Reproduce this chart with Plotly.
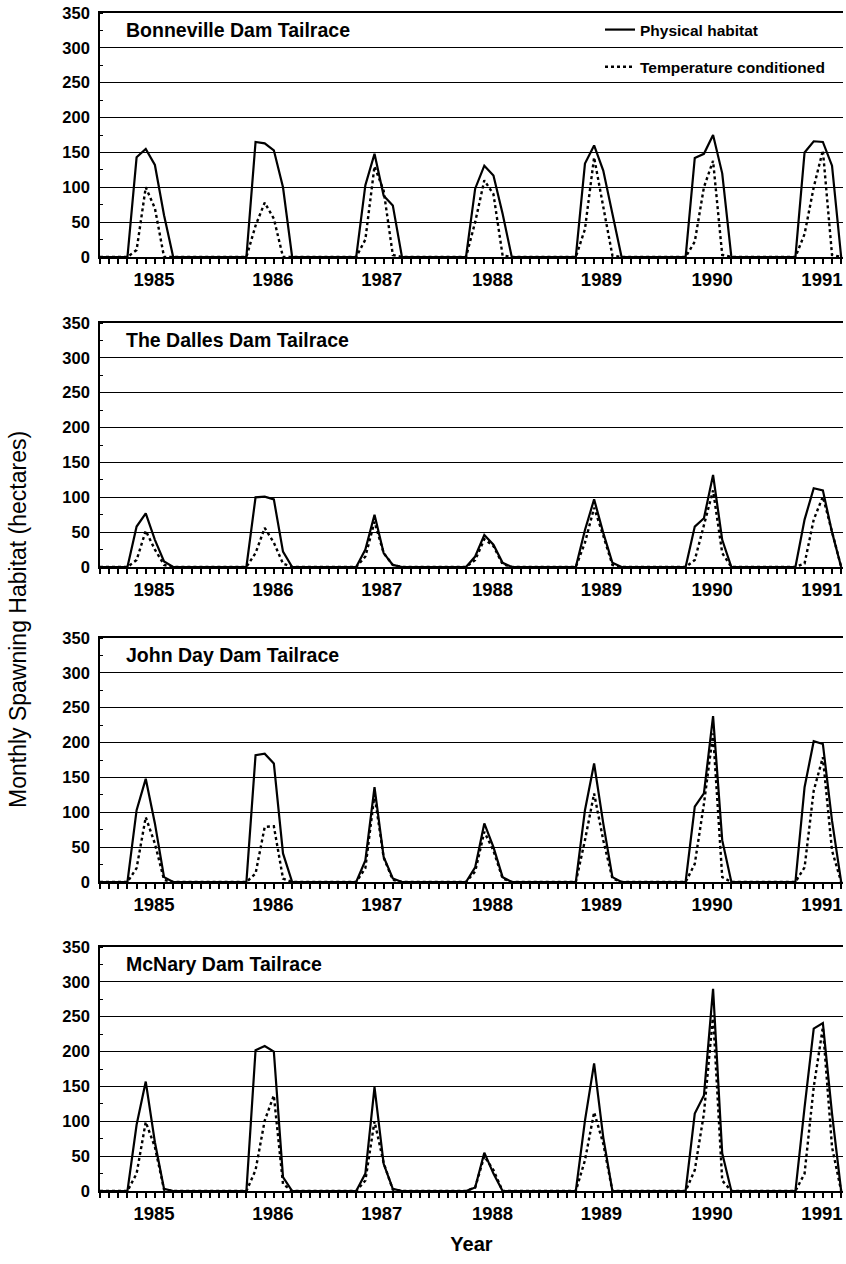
import plotly.graph_objects as go
from plotly.subplots import make_subplots

# ---- data: monthly values, month index 0..81 ----
months = list(range(82))
year_labels = ["1985", "1986", "1987", "1988", "1989", "1990", "1991"]
year_label_pos = [5.9, 18.9, 30.8, 42.9, 54.8, 66.9, 78.9]

panel_titles = ["Bonneville Dam Tailrace", "The Dalles Dam Tailrace",
                "John Day Dam Tailrace", "McNary Dam Tailrace"]

bonneville_physical = (
    [0, 0, 0, 0, 143, 155, 132, 60, 0, 0, 0, 0]
    + [0, 0, 0, 0, 0, 165, 163, 153, 100, 0, 0, 0]
    + [0, 0, 0, 0, 0, 103, 148, 88, 74, 0, 0, 0]
    + [0, 0, 0, 0, 0, 98, 131, 117, 62, 0, 0, 0]
    + [0, 0, 0, 0, 0, 134, 160, 124, 62, 0, 0, 0]
    + [0, 0, 0, 0, 0, 142, 148, 175, 120, 0, 0, 0]
    + [0, 0, 0, 0, 0, 150, 166, 165, 131, 0])
bonneville_temp = (
    [0, 0, 0, 0, 10, 100, 70, 0, 0, 0, 0, 0]
    + [0, 0, 0, 0, 0, 45, 78, 55, 0, 0, 0, 0]
    + [0, 0, 0, 0, 0, 25, 130, 95, 3, 0, 0, 0]
    + [0, 0, 0, 0, 0, 50, 110, 90, 2, 0, 0, 0]
    + [0, 0, 0, 0, 0, 40, 143, 72, 2, 0, 0, 0]
    + [0, 0, 0, 0, 0, 22, 100, 138, 3, 0, 0, 0]
    + [0, 0, 0, 0, 0, 33, 100, 153, 3, 0])

dalles_physical = (
    [0, 0, 0, 0, 58, 77, 39, 8, 0, 0, 0, 0]
    + [0, 0, 0, 0, 0, 100, 101, 97, 22, 0, 0, 0]
    + [0, 0, 0, 0, 0, 25, 75, 20, 3, 0, 0, 0]
    + [0, 0, 0, 0, 0, 15, 46, 32, 6, 0, 0, 0]
    + [0, 0, 0, 0, 0, 53, 97, 49, 6, 0, 0, 0]
    + [0, 0, 0, 0, 0, 58, 70, 132, 39, 0, 0, 0]
    + [0, 0, 0, 0, 0, 68, 113, 110, 50, 0])
dalles_temp = (
    [0, 0, 0, 0, 10, 52, 25, 3, 0, 0, 0, 0]
    + [0, 0, 0, 0, 0, 20, 56, 35, 5, 0, 0, 0]
    + [0, 0, 0, 0, 0, 15, 65, 20, 3, 0, 0, 0]
    + [0, 0, 0, 0, 0, 10, 40, 30, 4, 0, 0, 0]
    + [0, 0, 0, 0, 0, 35, 85, 45, 3, 0, 0, 0]
    + [0, 0, 0, 0, 0, 10, 58, 110, 20, 0, 0, 0]
    + [0, 0, 0, 0, 0, 5, 68, 101, 49, 0])

johnday_physical = (
    [0, 0, 0, 0, 103, 148, 84, 7, 0, 0, 0, 0]
    + [0, 0, 0, 0, 0, 182, 184, 170, 41, 0, 0, 0]
    + [0, 0, 0, 0, 0, 31, 136, 36, 5, 0, 0, 0]
    + [0, 0, 0, 0, 0, 21, 84, 50, 7, 0, 0, 0]
    + [0, 0, 0, 0, 0, 103, 170, 84, 7, 0, 0, 0]
    + [0, 0, 0, 0, 0, 108, 127, 238, 60, 0, 0, 0]
    + [0, 0, 0, 0, 0, 136, 202, 198, 88, 0])
johnday_temp = (
    [0, 0, 0, 0, 20, 93, 55, 3, 0, 0, 0, 0]
    + [0, 0, 0, 0, 0, 12, 79, 80, 5, 0, 0, 0]
    + [0, 0, 0, 0, 0, 20, 125, 35, 3, 0, 0, 0]
    + [0, 0, 0, 0, 0, 15, 72, 45, 5, 0, 0, 0]
    + [0, 0, 0, 0, 0, 60, 127, 60, 5, 0, 0, 0]
    + [0, 0, 0, 0, 0, 26, 112, 213, 7, 0, 0, 0]
    + [0, 0, 0, 0, 0, 21, 131, 179, 45, 0])

mcnary_physical = (
    [0, 0, 0, 0, 95, 157, 70, 3, 0, 0, 0, 0]
    + [0, 0, 0, 0, 0, 202, 208, 200, 20, 0, 0, 0]
    + [0, 0, 0, 0, 0, 25, 149, 39, 3, 0, 0, 0]
    + [0, 0, 0, 0, 0, 5, 55, 25, 0, 0, 0, 0]
    + [0, 0, 0, 0, 0, 101, 183, 77, 0, 0, 0, 0]
    + [0, 0, 0, 0, 0, 111, 137, 290, 54, 0, 0, 0]
    + [0, 0, 0, 0, 0, 120, 233, 241, 111, 0])
mcnary_temp = (
    [0, 0, 0, 0, 25, 99, 63, 2, 0, 0, 0, 0]
    + [0, 0, 0, 0, 0, 30, 101, 137, 10, 0, 0, 0]
    + [0, 0, 0, 0, 0, 15, 100, 40, 2, 0, 0, 0]
    + [0, 0, 0, 0, 0, 5, 50, 30, 0, 0, 0, 0]
    + [0, 0, 0, 0, 0, 44, 113, 68, 0, 0, 0, 0]
    + [0, 0, 0, 0, 0, 30, 111, 252, 15, 0, 0, 0]
    + [0, 0, 0, 0, 0, 25, 149, 235, 63, 0])

physical = [bonneville_physical, dalles_physical, johnday_physical, mcnary_physical]
temperature = [bonneville_temp, dalles_temp, johnday_temp, mcnary_temp]

FONT = "Liberation Sans, Arial, sans-serif"
W, H = 846, 1264
ML, MR, MT, MB = 100, 3, 13, 73
pw = W - ML - MR
ph = H - MT - MB
panels_px = [(13, 257), (323, 567), (638, 882), (947, 1191)]

fig = make_subplots(rows=4, cols=1)

for i in range(4):
    r = i + 1
    fig.add_trace(go.Scatter(x=months, y=physical[i], mode="lines",
                             line=dict(color="black", width=2.2),
                             name="Physical habitat", legendgroup="a",
                             showlegend=(i == 0)), row=r, col=1)
    fig.add_trace(go.Scatter(x=months, y=temperature[i], mode="lines",
                             line=dict(color="black", width=2.4, dash="dot"),
                             name="Temperature conditioned", legendgroup="b",
                             showlegend=(i == 0)), row=r, col=1)
    top, bot = panels_px[i]
    d0 = (H - MB - bot) / ph
    d1 = (H - MB - top) / ph
    ya = "yaxis" if r == 1 else f"yaxis{r}"
    fig.layout[ya].domain = [d0, d1]
    fig.update_xaxes(row=r, col=1, range=[0, 81.2], tickmode="array",
                     tickvals=year_label_pos, ticktext=year_labels,
                     ticks="", showgrid=False, zeroline=False, automargin=False,
                     ticklabeloverflow="allow",
                     showline=True, linecolor="black", linewidth=2, mirror=True,
                     tickfont=dict(family=FONT, size=18.5, color="black", weight="bold"),
                     ticklabelstandoff=5,
                     minor=dict(tickmode="linear", tick0=0, dtick=1, ticks="outside",
                                ticklen=5, tickwidth=1.5, tickcolor="black",
                                showgrid=False))
    fig.update_yaxes(row=r, col=1, range=[0, 350], tickmode="array",
                     tickvals=[0, 50, 100, 150, 200, 250, 300, 350],
                     showgrid=True, gridcolor="black", gridwidth=1.4,
                     zeroline=False, showline=True, linecolor="black", linewidth=1.6,
                     automargin=False, ticklabeloverflow="allow",
                     ticks="", tickfont=dict(family=FONT, size=16.5, color="black", weight="bold"),
                     ticklabelstandoff=5,
                     minor=dict(tickmode="linear", tick0=0, dtick=25, ticks="inside",
                                ticklen=3, tickwidth=1, tickcolor="black", showgrid=False))
    fig.add_annotation(text=panel_titles[i], xref=f"x{'' if r == 1 else r} domain",
                       yref=f"y{'' if r == 1 else r} domain",
                       x=(124 - ML) / pw, y=1 - 17 / 244,
                       xanchor="left", yanchor="middle", showarrow=False,
                       font=dict(family=FONT, size=19.5, color="black", weight="bold"))

fig.update_xaxes(row=4, col=1, title=dict(text="Year", standoff=14,
                 font=dict(family=FONT, size=20, color="black", weight="bold")))

fig.add_annotation(text="Monthly Spawning Habitat (hectares)", textangle=-90,
                   xref="paper", yref="paper", x=(18 - ML) / pw,
                   y=(H - MB - 620) / ph, xanchor="center", yanchor="middle",
                   showarrow=False, font=dict(family=FONT, size=23, color="black"))

fig.update_layout(
    width=W, height=H, margin=dict(l=ML, r=MR, t=MT, b=MB),
    paper_bgcolor="white", plot_bgcolor="white",
    showlegend=True,
    legend=dict(x=(600 - ML) / pw, y=(H - MB - 13) / ph,
                xanchor="left", yanchor="top", traceorder="grouped",
                tracegroupgap=14, bgcolor="rgba(0,0,0,0)", itemwidth=30,
                font=dict(family=FONT, size=15.5, color="black", weight="bold")),
)

fig.write_html("out.html", config={"displayModeBar": False},
               post_script="document.body.style.margin='0';")
